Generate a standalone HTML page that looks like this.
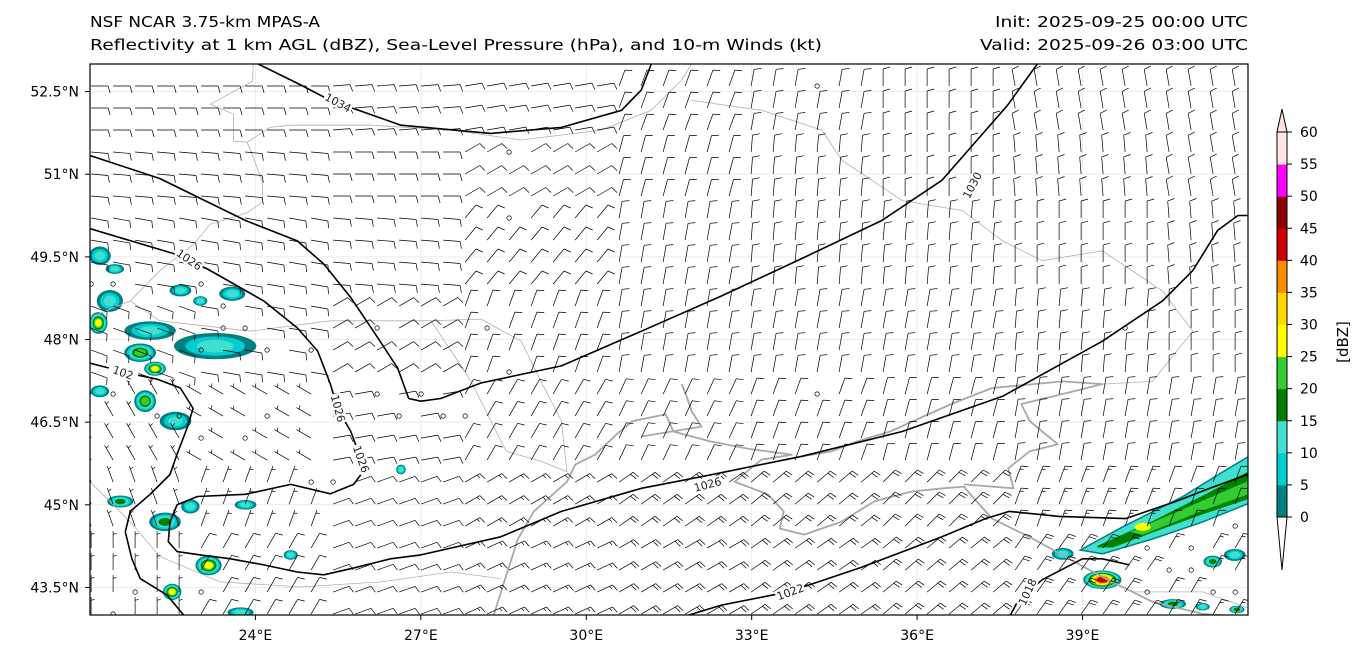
<!DOCTYPE html>
<html><head><meta charset="utf-8">
<style>
html,body{margin:0;padding:0;background:#fff;}
svg{display:block;font-family:"DejaVu Sans","Liberation Sans",sans-serif;}
</style></head>
<body>
<svg id="chart" width="1366" height="660" viewBox="0 0 1366 660">
  <text x="90" y="27" font-size="15" textLength="230" lengthAdjust="spacingAndGlyphs">NSF NCAR 3.75-km MPAS-A</text>
  <text x="90" y="50" font-size="15" textLength="732" lengthAdjust="spacingAndGlyphs">Reflectivity at 1 km AGL (dBZ), Sea-Level Pressure (hPa), and 10-m Winds (kt)</text>
  <text x="995" y="27" font-size="15" textLength="253" lengthAdjust="spacingAndGlyphs">Init: 2025-09-25 00:00 UTC</text>
  <text x="980" y="50" font-size="15" textLength="268" lengthAdjust="spacingAndGlyphs">Valid: 2025-09-26 03:00 UTC</text>
  <defs><clipPath id="mapclip"><rect x="90" y="64" width="1158" height="551"/></clipPath></defs>
  <g id="map" clip-path="url(#mapclip)">
    <rect x="90" y="64" width="1158" height="551" fill="#fff"/>
    <g id="grid"></g><g id="refl"></g><g id="geo"></g><g id="barbs"></g><g id="iso"></g>
  </g>
  <rect x="90" y="64" width="1158" height="551" fill="none" stroke="#000" stroke-width="1.2"/>
  <g id="axes"></g>
  <g id="cbar"></g>
</svg>
<script>
const NS="http://www.w3.org/2000/svg";
// ---- data ----
const lonTicks=[24,27,30,33,36,39];
const latTicks=[43.5,45,46.5,48,49.5,51,52.5];
const cbarLevels=[0,5,10,15,20,25,30,35,40,45,50,55,60];
const cbarColors=["#008080","#00CED1","#40E0D0","#008000","#32CD32","#FFFF00","#FFD700","#FF8C00","#CC0000","#8B0000","#FF00FF","#FFE4E1"];
const windLats=[52.5,51,49.5,48,46.5,45,43.5];
const windLons=[21.5,24,26.5,29,31.5,34,36.5,39,41.5];
const windDir=[
 [90,90,85,80,20,10,0,350,350],
 [95,95,90,60,15,5,0,355,350],
 [100,100,95,40,10,5,5,0,355],
 [110,100,60,20,10,10,10,5,0],
 [330,300,80,30,25,20,15,10,10],
 [340,20,70,60,55,50,45,20,20],
 [0,30,70,65,60,55,50,35,30]];
const windSpd=[
 [10,10,10,10,10,10,10,10,10],
 [10,10,10,10,10,10,10,10,10],
 [10,10,10,10,10,10,10,10,10],
 [10,10,10,10,10,10,10,10,10],
 [5,5,10,10,10,10,10,10,10],
 [5,5,10,15,20,20,20,15,10],
 [5,10,10,15,20,20,20,20,15]];
const calmI=[13,18,19,13,15,16,17,14,10,5,7,8,10,11,3,4,1,5,7,1,2,5,33,19,19,47,48,50,52,48,49,50,51,52,33,0,1,5,6,6,8];
const calmJ=[11,11,13,14,14,15,15,15,12,12,11,15,18,18,15,15,14,16,16,24,23,23,0,3,6,11,21,21,20,23,22,22,23,23,14,9,9,9,10,11,12];
const iso1034Lon=[24.05,24.82,25.36,26.64,28.27,29.55,30.64,31.0,31.18];
const iso1034Lat=[53.0,52.62,52.34,51.89,51.74,51.85,52.16,52.53,53.0];
const iso1030Lon=[21,22.27,23.82,24.76,25.24,25.73,26.22,26.58,26.78,27.0,27.36,28.09,29.55,31.0,32.45,33.91,35.36,36.45,37.09,37.64,38.18];
const iso1030Lat=[51.34,50.92,50.16,49.79,49.37,48.76,48.03,47.48,46.93,46.88,46.93,47.21,47.52,48.15,48.79,49.47,50.16,50.89,51.62,52.25,53.0];
const iso1026Lon=[21.0,22.51,23.13,24.15,24.76,25.13,25.36,25.49,25.73,25.91,25.96,25.78,25.36,24.64,23.82,22.95,22.58,22.45,22.42,22.58,23.0,23.55,24.15,24.76,25.24,25.73,26.45,27.0,28.45,29.55,31.0,32.09,33.91,35.73,37.55,39.36,40.45,41.0,41.45,41.82,42.05];
const iso1026Lat=[50.01,49.56,49.28,48.70,48.21,47.79,47.19,46.75,46.33,45.84,45.61,45.37,45.20,45.37,45.19,45.15,45.00,44.69,44.33,44.15,44.09,44.02,43.91,43.78,43.73,43.84,44.02,44.09,44.42,44.88,45.30,45.51,45.88,46.33,46.97,47.97,48.70,49.25,49.98,50.25,50.25];
const iso1026bLon=[21.0,21.78,22.22,22.64,22.87,22.76,22.58,22.45,22.09,21.73,21.64,21.76,21.91,22.4,22.73];
const iso1026bLat=[47.57,47.37,47.28,47.12,46.75,46.39,45.92,45.55,45.19,44.88,44.51,44.02,43.66,43.36,42.96];
const iso1022Lon=[31.73,32.45,33.67,35.0,36.45,37.24,37.67,38.58,39.78,40.69,41.31,42.05];
const iso1022Lat=[42.96,43.18,43.42,43.87,44.42,44.75,44.88,44.79,44.75,45.06,45.30,45.57];
const iso1018Lon=[37.67,37.82,38.0,38.27,39.0,39.36,39.85];
const iso1018Lat=[42.96,43.24,43.42,43.64,44.02,44.02,43.91];
const isoLabelText=["1034","1030","1026","1026","1026","1026","102","1022","1018"];
const isoLabelLon=[25.5,37.0,22.8,25.5,25.92,32.2,21.6,33.7,38.0];
const isoLabelLat=[52.3,50.8,49.45,46.75,45.83,45.37,47.4,43.42,43.42];
const isoLabelRot=[28,-62,35,75,70,-15,20,-20,-65];
const coastLon=[28.31,28.53,28.76,29.05,29.65,29.8,30.16,30.55,30.84,31.44,31.58,32.25,32.98,33.73,33.18,32.91,32.69,33.29,33.58,33.51,33.95,34.62,35.22,35.89,36.47,36.85,37.0,37.36,38.11,38.85,39.36,40.27,41.18,42.05];
const coastLat=[42.96,43.66,44.38,44.88,45.42,45.73,45.91,46.28,46.52,46.64,46.33,46.15,46.01,45.91,45.82,45.6,45.42,45.19,44.88,44.57,44.46,44.69,45.06,45.24,45.3,45.33,45.15,44.75,44.38,43.97,43.69,43.24,43.02,42.96];
const azovLon=[36.85,37.75,37.65,38.04,38.55,38.04,37.89,38.64,39.36,38.64,37.36,36.62,35.51,34.91,34.45,33.91];
const azovLat=[45.37,45.3,45.66,45.97,46.1,46.52,46.83,47.01,47.19,47.24,47.12,46.83,46.33,46.15,45.97,45.88];
const riverLon=[31.73,31.82,31.91,32.09,31.0];
const riverLat=[47.19,46.97,46.70,46.42,46.24];
const borderLons=[
 [23.96,23.95,23.18,23.6,23.6,23.85,24.27,24.64,26.09,27.55,28.82,30.27,31.18,31.73,31.91],
 [23.85,23.96,24.13,24.13,23.85,23.18,22.87,22.27,21.73,21.0],
 [31.91,33.18,34.27,34.64,35.73,36.82,37.55,38.27,39.36,40.45,41.0,40.27,39.36],
 [27.18,28.09,28.82,29.18,29.55,29.65,29.18,28.55,28.27,27.91,27.55,27.18],
 [21.73,22.27,23.91,25.36,27.18],
 [21.0,21.73,22.27,23.36,24.82,26.27,27.55,28.45],
 [39.91,41.18,42.05]];
const borderLats=[
 [53.0,52.69,52.27,52.09,51.6,51.58,51.85,51.89,51.89,51.8,51.62,51.8,52.16,52.71,53.0],
 [51.58,51.31,50.85,50.5,50.3,50.09,49.72,49.25,48.7,48.4],
 [52.34,52.16,51.8,51.25,50.52,50.34,49.79,49.43,49.61,48.88,48.15,47.24,47.19],
 [48.34,48.37,47.97,47.24,46.52,45.6,45.79,45.97,46.52,47.24,47.79,48.34],
 [48.7,48.34,48.15,48.34,48.34],
 [45.42,44.69,44.06,43.6,43.51,43.6,43.78,43.66],
 [43.42,43.42,43.11]];
const blobLon=[21.18,21.36,21.15,22.09,23.27,21.91,22.18,22.0,21.18,22.55,21.55,22.36,22.82,23.15,23.82,22.49,23.73,24.64,23.58,22.64,21.45,23.0,26.64,38.64,39.36,40.64,41.36,41.76,41.18,41.8];
const blobLat=[49.52,48.7,48.3,48.16,47.88,47.76,47.47,46.88,47.06,46.52,45.06,44.69,44.97,43.9,45.0,43.42,43.05,44.09,48.83,48.89,49.28,48.7,45.64,44.11,43.64,43.2,43.97,44.09,43.15,43.1];
const blobRx=[0.18,0.22,0.15,0.45,0.73,0.27,0.18,0.18,0.15,0.27,0.22,0.27,0.15,0.22,0.18,0.15,0.22,0.11,0.22,0.18,0.15,0.11,0.07,0.18,0.33,0.22,0.15,0.18,0.11,0.12];
const blobRy=[0.15,0.18,0.18,0.15,0.22,0.15,0.11,0.18,0.09,0.15,0.09,0.15,0.11,0.16,0.07,0.13,0.07,0.07,0.11,0.09,0.07,0.07,0.07,0.09,0.15,0.07,0.09,0.09,0.05,0.05];
const blobPeak=[2,2,5,2,2,4,5,4,2,2,3,3,2,5,2,5,2,2,2,2,2,2,2,2,8,3,3,2,2,3];
const bandOuterLon=[38.96,39.73,40.82,41.55,42.1,42.1,41.18,40.27,39.36];
const bandOuterLat=[44.18,44.6,45.15,45.6,45.93,45.06,44.69,44.38,44.11];
const bandMidLon=[39.27,40.27,41.18,42.1,42.1,41.18,40.27,39.55];
const bandMidLat=[44.24,44.69,45.15,45.64,45.15,44.84,44.51,44.24];
const bandInnerLon=[39.91,41.18,42.1,42.1,41.18,40.09];
const bandInnerLat=[44.51,45.06,45.46,45.24,44.91,44.47];
// ---- projection ----
const X=lon=>90+(lon-21)*55.14;
const Y=lat=>64+(53-lat)*55.1;
function mk(tag,attrs,parent){const e=document.createElementNS(NS,tag);for(const k in attrs)e.setAttribute(k,attrs[k]);parent.appendChild(e);return e;}
const gGrid=document.getElementById('grid'),gRefl=document.getElementById('refl'),gGeo=document.getElementById('geo'),gBarbs=document.getElementById('barbs'),gIso=document.getElementById('iso'),gAxes=document.getElementById('axes'),gCbar=document.getElementById('cbar');
lonTicks.forEach(l=>{
  const gl=mk('line',{x1:X(l),x2:X(l),y1:64,y2:615,stroke:'#ececec','stroke-width':1},gGrid);
  
  
  const tk=mk('line',{x1:X(l),x2:X(l),y1:615,y2:620,stroke:'#000'},gAxes);
  
  
  const t=mk('text',{x:X(l),y:640,'font-size':14,'text-anchor':'middle'},gAxes);t.textContent=l+'°E';
  
  
});
latTicks.forEach(l=>{
  const gl=mk('line',{x1:90,x2:1248,y1:Y(l),y2:Y(l),stroke:'#ececec','stroke-width':1},gGrid);
  
  
  const tk=mk('line',{x1:85,x2:90,y1:Y(l),y2:Y(l),stroke:'#000'},gAxes);
  
  
  const t=mk('text',{x:79,y:Y(l)+5,'font-size':14,'text-anchor':'end'},gAxes);t.textContent=l+'°N';
  
  
});
for(let b=0;b<blobLon.length;b++){
  for(let lv=0;lv<=blobPeak[b];lv++){
    const f=1-lv/(blobPeak[b]+1)*0.85;
    const e=mk('ellipse',{cx:X(blobLon[b]),cy:Y(blobLat[b]),rx:blobRx[b]*55*f+1,ry:blobRy[b]*55*f+1,fill:cbarColors[lv]},gRefl);
    
    
  }
}
function pts(lons,lats){return lons.map((l,i)=>X(l).toFixed(1)+','+Y(lats[i]).toFixed(1)).join(' ');}
[[bandOuterLon,bandOuterLat,'#40E0D0','#008080'],[bandMidLon,bandMidLat,'#008000','#008000'],[bandInnerLon,bandInnerLat,'#32CD32','#32CD32']].forEach(p=>{
  const e=mk('polygon',{points:pts(p[0],p[1]),fill:p[2],stroke:p[3],'stroke-width':1.5},gRefl);
  
  
});
{const e=mk('ellipse',{cx:X(40.09),cy:Y(44.6),rx:8,ry:4,fill:'#FFFF00'},gRefl);

}
borderLons.forEach((bl,i)=>{
  const e=mk('polyline',{points:pts(bl,borderLats[i]),fill:'none',stroke:'#b0b0b0','stroke-width':0.8},gGeo);
  
  
});
[[coastLon,coastLat,'black-sea-coastline'],[azovLon,azovLat,'azov-coastline'],[riverLon,riverLat,'dnieper-river']].forEach(c=>{
  const e=mk('polyline',{points:pts(c[0],c[1]),fill:'none',stroke:'#a8a8a8','stroke-width':1.8,'stroke-linejoin':'round'},gGeo);
  
  
});
function nearestIdx(arr,v){let bi=0,bd=1e9;arr.forEach((a,i)=>{const d=Math.abs(a-v);if(d<bd){bd=d;bi=i;}});return bi;}
const calmSet=new Set(calmI.map((v,k)=>v+','+calmJ[k]));
for(let j=0;j<25;j++){
  for(let i=0;i<53;i++){
    const lon=21.02+0.399*i, lat=52.6-0.3993*j;
    const x=X(lon), y=Y(lat);
    if(calmSet.has(i+','+j)){
      const c=mk('circle',{cx:x,cy:y,r:2.2,fill:'none',stroke:'#000','stroke-width':0.7},gBarbs);
      
      
      continue;
    }
    const r=nearestIdx(windLats,lat), q=nearestIdx(windLons,lon);
    const dir=windDir[r][q], spd=windSpd[r][q];
    const a=dir*Math.PI/180, ux=Math.sin(a), uy=-Math.cos(a), px=-uy, py=ux;
    const L=17, tx=x+ux*L, ty=y+uy*L;
    let d=`M${x.toFixed(1)},${y.toFixed(1)}L${tx.toFixed(1)},${ty.toFixed(1)}`;
    const n10=Math.floor(spd/10), half=(spd%10)>=5;
    let pos=0;
    for(let k=0;k<n10;k++){
      const sx=tx-ux*pos*3.2, sy=ty-uy*pos*3.2;
      d+=`M${sx.toFixed(1)},${sy.toFixed(1)}L${(sx+px*7+ux*2).toFixed(1)},${(sy+py*7+uy*2).toFixed(1)}`;
      pos++;
    }
    if(half){
      if(n10===0)pos=1;
      const sx=tx-ux*pos*3.2, sy=ty-uy*pos*3.2;
      d+=`M${sx.toFixed(1)},${sy.toFixed(1)}L${(sx+px*3.5+ux*1).toFixed(1)},${(sy+py*3.5+uy*1).toFixed(1)}`;
    }
    const p=mk('path',{d:d,fill:'none',stroke:'#000','stroke-width':0.7},gBarbs);
    
    
  }
}
[[iso1034Lon,iso1034Lat],[iso1030Lon,iso1030Lat],[iso1026Lon,iso1026Lat],[iso1026bLon,iso1026bLat],[iso1022Lon,iso1022Lat],[iso1018Lon,iso1018Lat]].forEach(s=>{
  const e=mk('polyline',{points:pts(s[0],s[1]),fill:'none',stroke:'#000','stroke-width':1.6,'stroke-linejoin':'round'},gIso);
  
  
});
isoLabelText.forEach((t,i)=>{
  const x=X(isoLabelLon[i]),y=Y(isoLabelLat[i]);
  const g=mk('g',{transform:`translate(${x},${y}) rotate(${isoLabelRot[i]})`},gIso);
  mk('rect',{x:-15,y:-6,width:30,height:12,fill:'#fff'},g);
  const tx=mk('text',{x:0,y:4,'font-size':11,'text-anchor':'middle',fill:'#222'},g);tx.textContent=t;
  
  
});
const CB0=517, CBs=(517-132)/60;
const cbY=v=>CB0-v*CBs;
for(let k=0;k<cbarColors.length;k++){
  const r=mk('rect',{x:1277,y:cbY(cbarLevels[k+1]),width:10,height:cbY(cbarLevels[k])-cbY(cbarLevels[k+1])+0.5,fill:cbarColors[k]},gCbar);
  
  
}
{const t=mk('polygon',{points:`1277,${cbY(60)} 1282,109 1287,${cbY(60)}`,fill:'#FFE4E1',stroke:'#000','stroke-width':1},gCbar);


const b=mk('polygon',{points:`1277,${cbY(0)} 1282,570 1287,${cbY(0)}`,fill:'#fff',stroke:'#000','stroke-width':1},gCbar);


const o=mk('rect',{x:1277,y:cbY(60),width:10,height:cbY(0)-cbY(60),fill:'none',stroke:'#000','stroke-width':1},gCbar);

}
cbarLevels.forEach(v=>{
  const tk=mk('line',{x1:1287,x2:1292,y1:cbY(v),y2:cbY(v),stroke:'#000'},gCbar);
  
  
  const t=mk('text',{x:1300,y:cbY(v)+5,'font-size':14},gCbar);t.textContent=v;
  
  
});
{const t=mk('text',{x:0,y:0,'font-size':15,'text-anchor':'middle',transform:'translate(1348,342) rotate(-90)'},gCbar);t.textContent='[dBZ]';

}
</script>
</body></html>
